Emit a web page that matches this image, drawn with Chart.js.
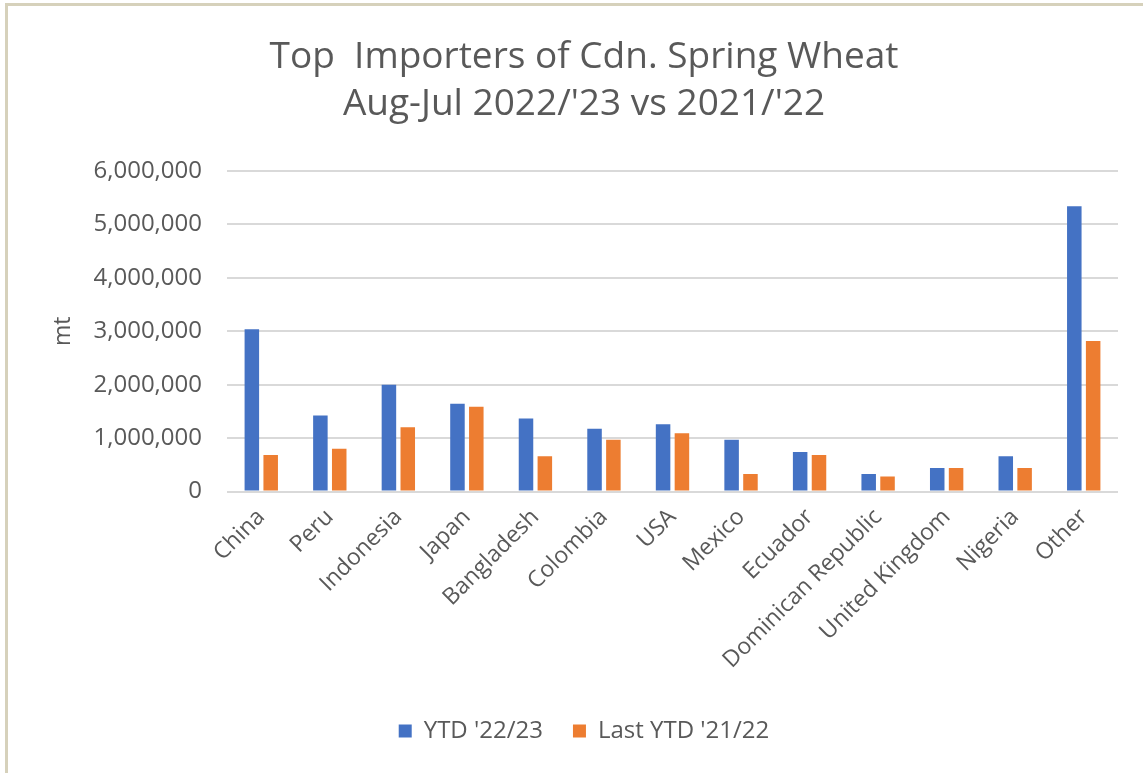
<!DOCTYPE html>
<html>
<head>
<meta charset="utf-8">
<script src="https://cdn.jsdelivr.net/npm/chart.js@4"></script>
<style>
    body { margin: 0; background: #ffffff; }
    .frame {
        position: absolute; left: 5px; top: 3px; width: 1138px; height: 770px;
        border-left: 3px solid #d6d1bb; border-top: 3px solid #d6d1bb;
    }
    .content { position: absolute; left: 0; top: 0; width: 1143px; height: 773px; }
</style>
</head>
<body>
<div class="frame"></div>
<div class="content"><canvas id="wheat-chart" width="1143" height="773"></canvas></div>
<script>
const countries = ['China', 'Peru', 'Indonesia', 'Japan', 'Bangladesh', 'Colombia', 'USA', 'Mexico',
    'Ecuador', 'Dominican Republic', 'United Kingdom', 'Nigeria', 'Other']
const ytd2223 = [3040000, 1425000, 2000000, 1645000, 1370000, 1175000, 1260000, 970000,
    740000, 330000, 440000, 660000, 5340000]
const ytd2122 = [685000, 800000, 1205000, 1590000, 660000, 970000, 1090000, 330000,
    685000, 280000, 440000, 440000, 2820000]
const seriesNames = ["YTD '22/23", "Last YTD '21/22"]
const titleLines = ['Top  Importers of Cdn. Spring Wheat', "Aug-Jul 2022/'23 vs 2021/'22"]

const textColor = '#595959'
const fontFamily = '"Open Sans", "Noto Sans", sans-serif'

const wheatChartConfig = {
    type: 'bar',
    data: {
        labels: countries,
        datasets: [{
            label: seriesNames[0],
            data: ytd2223,
            backgroundColor: '#4472c4',
            categoryPercentage: 0.55,
            barPercentage: 0.77
        }, {
            label: seriesNames[1],
            data: ytd2122,
            backgroundColor: '#ed7d31',
            categoryPercentage: 0.55,
            barPercentage: 0.77
        }]
    },
    options: {
        responsive: false,
        animation: false,
        layout: {
            padding: {left: 50, right: 25, top: 0, bottom: 20}
        },
        plugins: {
            title: {
                display: true,
                text: titleLines,
                color: textColor,
                font: {family: fontFamily, size: 37, weight: 'normal', lineHeight: 1.27},
                padding: {top: 34, bottom: 43}
            },
            legend: {
                position: 'bottom',
                labels: {
                    color: textColor,
                    font: {family: fontFamily, size: 24},
                    boxWidth: 13,
                    boxHeight: 13,
                    padding: 30
                }
            },
            tooltip: {enabled: false}
        },
        scales: {
            x: {
                grid: {display: false},
                border: {display: false},
                ticks: {
                    color: textColor,
                    font: {family: fontFamily, size: 23},
                    minRotation: 45,
                    maxRotation: 45,
                    autoSkip: false,
                    padding: 4
                },
                afterFit: (scale) => {
                    scale.height += 11
                }
            },
            y: {
                min: 0,
                max: 6000000,
                border: {display: false},
                grid: {color: '#d9d9d9', lineWidth: 2, drawTicks: false},
                ticks: {
                    stepSize: 1000000,
                    color: textColor,
                    font: {family: fontFamily, size: 24},
                    padding: 25,
                    callback: (value) => value.toLocaleString('en-US')
                },
                title: {
                    display: true,
                    text: 'mt',
                    color: textColor,
                    font: {family: fontFamily, size: 23},
                    padding: 0
                },
                afterFit: (scale) => {
                    scale.width = 177
                }
            }
        }
    }
}

const wheatChart = new Chart(
    document.getElementById('wheat-chart').getContext('2d'),
    wheatChartConfig
)
</script>
</body>
</html>
